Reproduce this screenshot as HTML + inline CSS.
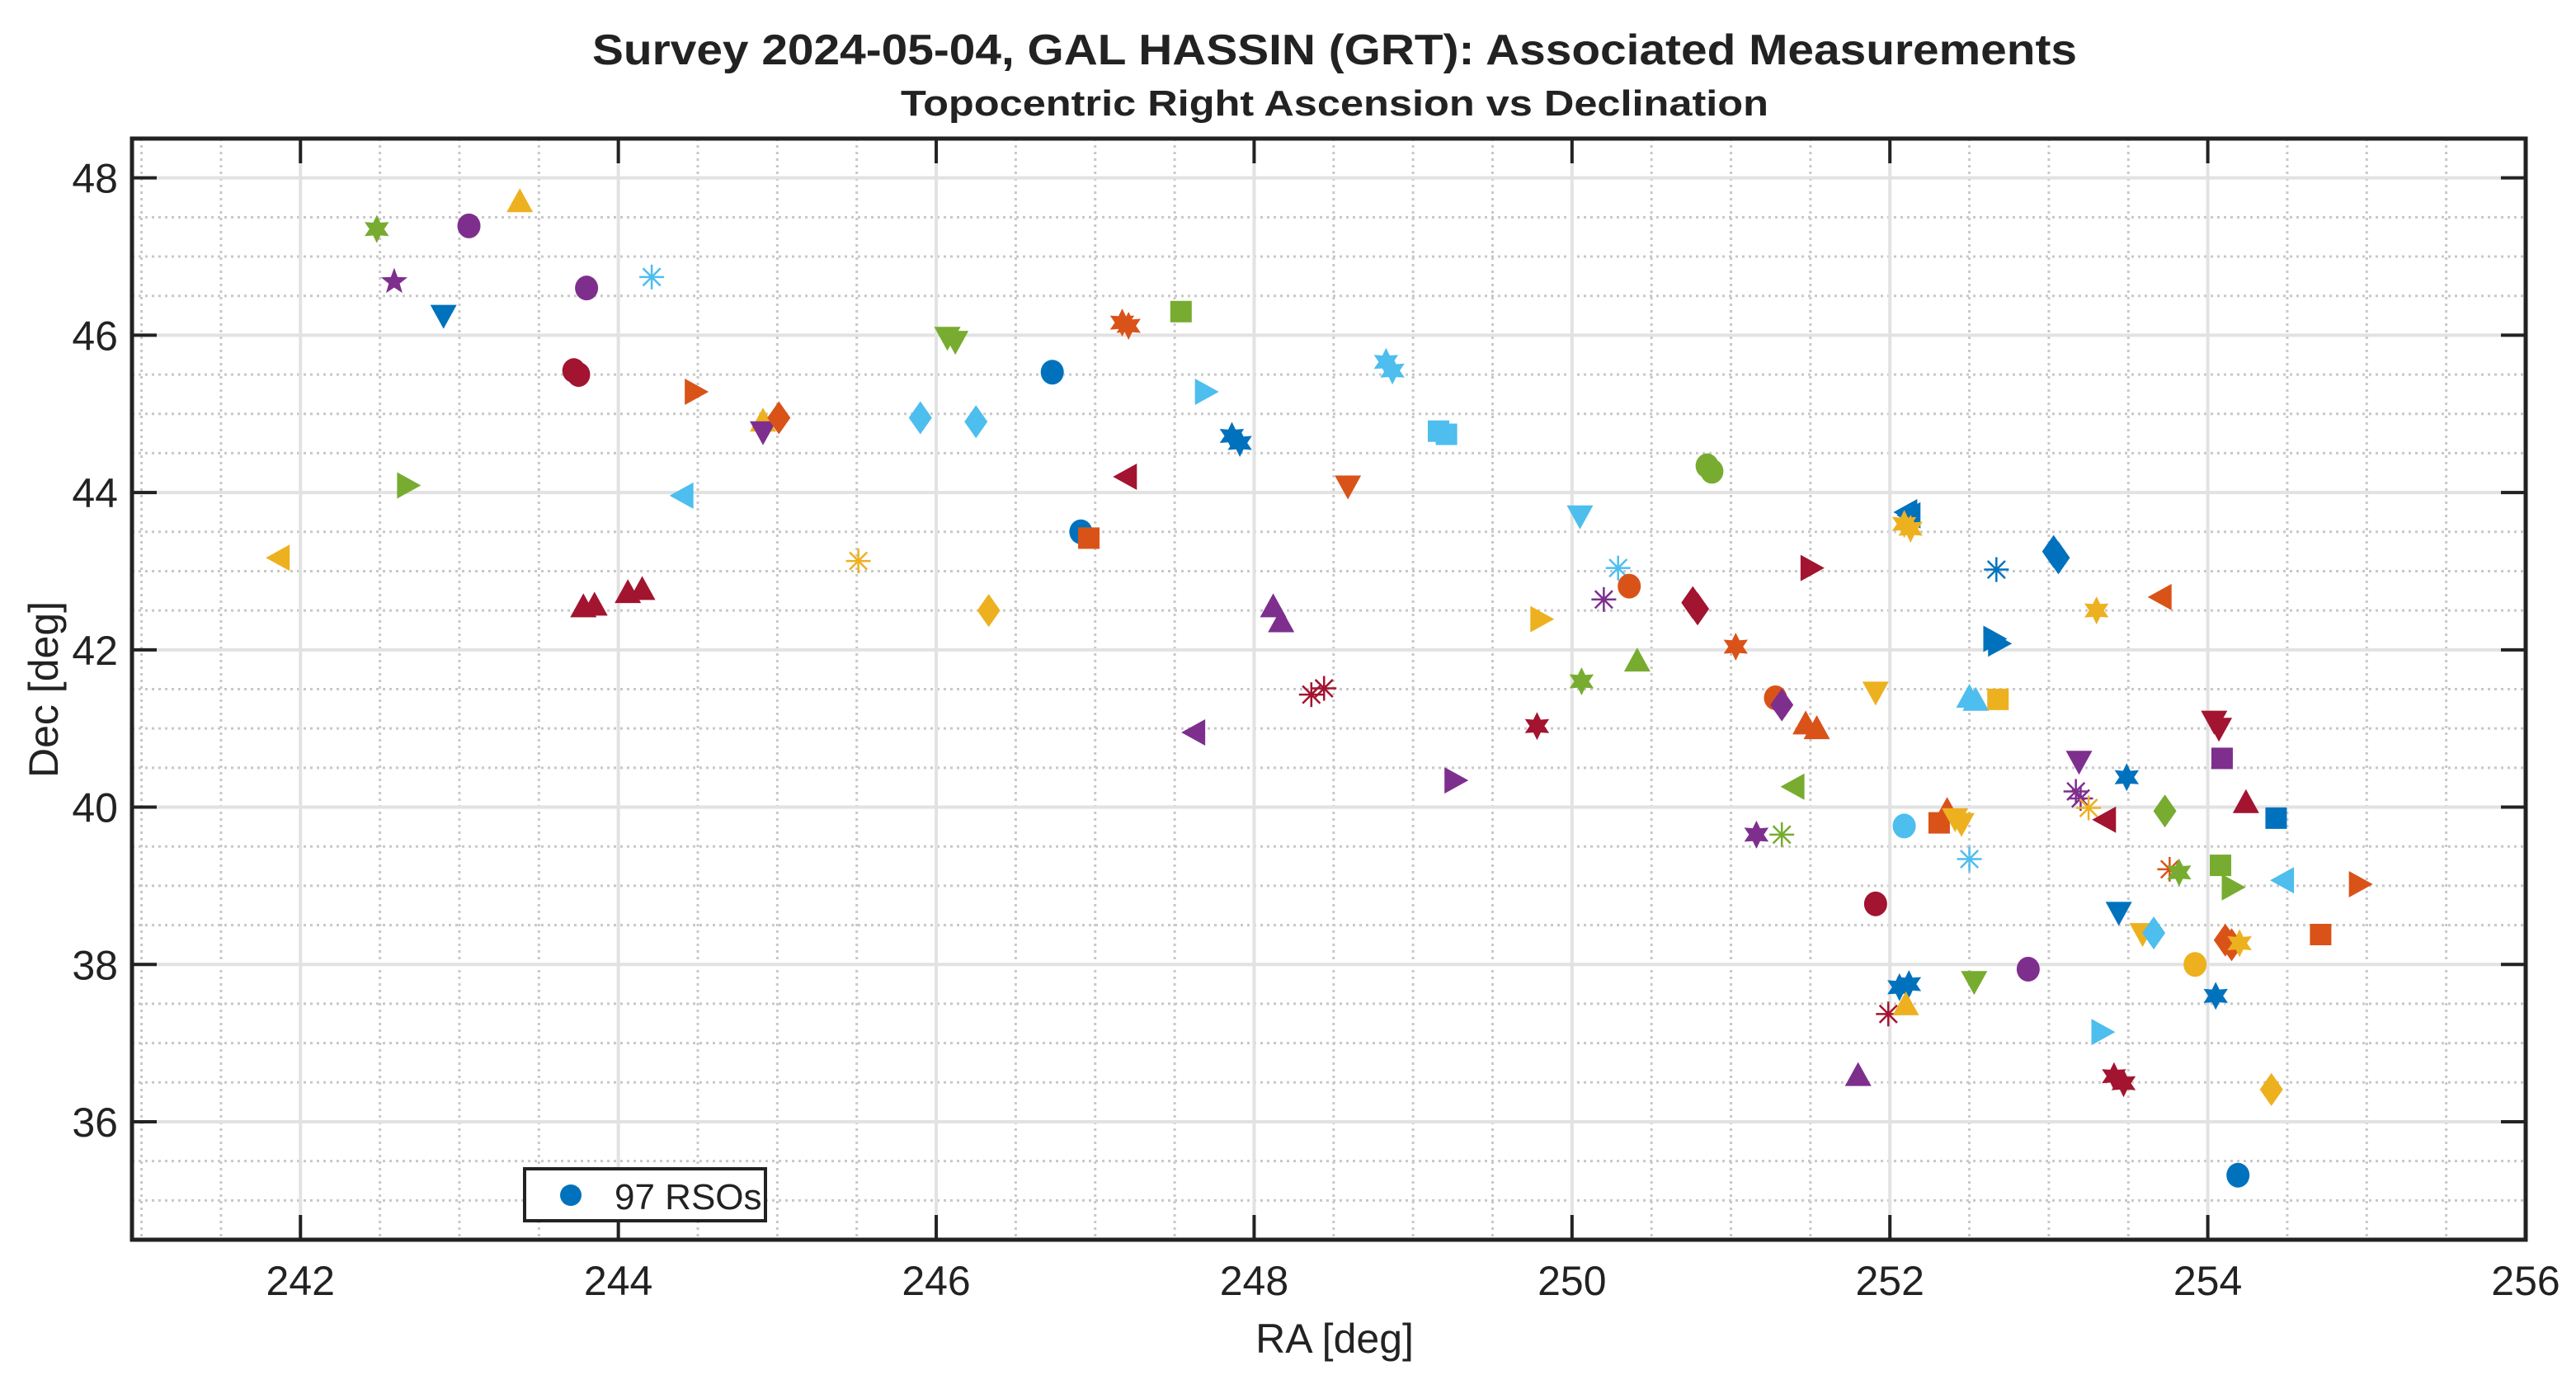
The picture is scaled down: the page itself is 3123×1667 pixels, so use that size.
<!DOCTYPE html>
<html><head><meta charset="utf-8"><style>
html,body{margin:0;padding:0;background:#fff;}
svg{display:block;}
text{font-family:"Liberation Sans Narrow","Liberation Sans",sans-serif;fill:#222;}
</style></head><body>
<svg id="chart" width="3123" height="1667" viewBox="0 0 3123 1667" xmlns="http://www.w3.org/2000/svg">
<rect x="0" y="0" width="3123" height="1667" fill="#fff"/>
<text x="1618" y="78" text-anchor="middle" font-size="52" font-weight="bold" textLength="1800" lengthAdjust="spacingAndGlyphs" style="font-family:'Liberation Sans',sans-serif">Survey 2024-05-04, GAL HASSIN (GRT): Associated Measurements</text>
<text x="1618" y="140" text-anchor="middle" font-size="44" font-weight="bold" textLength="1052" lengthAdjust="spacingAndGlyphs" style="font-family:'Liberation Sans',sans-serif">Topocentric Right Ascension vs Declination</text>
<g id="grid"></g>
<g id="marks"></g>
<g id="axes"></g>
<text x="1618" y="1640" text-anchor="middle" font-size="50">RA [deg]</text>
<text x="0" y="0" transform="translate(70,836) rotate(-90)" text-anchor="middle" font-size="50">Dec [deg]</text>
<g>
<rect x="636" y="1417" width="292" height="63" fill="#fff" stroke="#222" stroke-width="4"/>
<circle cx="692" cy="1449" r="13" fill="#0072BD"/>
<text x="745" y="1466" font-size="44">97 RSOs</text>
</g>
</svg>
<script>
const xTicks = [242, 244, 246, 248, 250, 252, 254, 256];
const yTicks = [36, 38, 40, 42, 44, 46, 48];
const xLim = [240.94, 256];
const yLim = [34.5, 48.5];
const palette = ['#0072BD','#D95319','#EDB120','#7E2F8E','#77AC30','#4DBEEE','#A2142F'];
// marker codes: o circle, s square, d diamond, ^ v < > triangles, p pentagram, h hexagram, * asterisk
const ra = [242.48,243.06,243.38,242.59,242.90,243.80,244.21,243.72,243.75,244.48,244.91,244.91,245.01,242.67,244.41,241.87,243.78,243.85,244.06,244.15,245.51,245.90,246.25,246.33,246.07,246.12,246.73,247.17,247.21,247.54,247.69,246.91,246.96,247.20,247.86,247.91,248.59,248.83,248.87,249.16,249.21,247.63,248.12,248.17,248.36,248.44,249.26,249.78,249.80,250.06,250.05,250.29,250.20,250.36,250.41,250.85,250.88,250.76,250.79,251.03,251.50,251.28,251.32,251.47,251.54,251.40,251.16,251.32,251.91,252.11,252.13,252.09,252.13,252.09,251.91,251.99,252.06,252.12,252.10,251.80,252.31,252.36,252.41,252.45,252.50,252.50,252.54,252.68,252.67,252.65,252.68,252.53,252.87,253.03,253.06,253.30,253.71,253.19,253.17,253.20,253.25,253.36,253.49,253.44,253.33,253.41,253.47,253.73,253.76,253.82,253.59,253.66,253.92,254.04,254.07,254.09,254.24,254.43,254.08,254.15,254.48,254.11,254.15,254.2,254.71,254.05,254.4,254.19,254.95];
const dec = [47.35,47.39,47.69,46.68,46.26,46.6,46.74,45.55,45.5,45.28,44.9,44.78,44.95,44.09,43.96,43.17,42.54,42.56,42.72,42.76,43.13,44.95,44.9,42.5,45.98,45.93,45.53,46.16,46.12,46.3,45.28,43.5,43.42,44.2,44.72,44.63,44.09,45.66,45.55,44.78,44.74,40.95,42.54,42.35,41.43,41.51,40.34,41.03,42.39,41.6,43.71,43.04,42.64,42.81,41.85,44.34,44.27,42.6,42.52,42.04,43.04,41.39,41.3,41.05,40.99,40.26,39.65,39.65,41.47,43.75,43.71,43.6,43.54,39.76,38.77,37.37,37.71,37.75,37.48,36.58,39.8,39.95,39.86,39.8,39.34,41.39,41.35,41.37,43.02,42.14,42.08,37.79,37.94,43.25,43.17,42.5,42.67,40.59,40.2,40.11,39.99,39.84,40.38,38.67,37.14,36.58,36.49,39.95,39.21,39.17,38.4,38.4,38.0,41.1,41.01,40.62,40.05,39.86,39.26,38.98,39.07,38.31,38.25,38.27,38.38,37.6,36.41,35.32,39.02];
const colorIdx = [4,3,2,3,0,3,5,6,6,1,2,3,1,4,5,2,6,6,6,6,2,5,5,2,4,4,0,1,1,4,5,0,1,6,0,0,1,5,5,5,5,3,3,3,6,6,3,6,2,4,5,5,3,1,4,4,4,6,6,1,6,1,3,1,1,4,3,4,2,0,0,2,2,5,6,6,0,0,2,3,1,1,2,2,5,5,5,2,0,0,0,4,3,0,0,2,1,3,3,3,2,6,0,0,5,6,6,4,1,4,2,5,2,6,6,3,6,0,4,4,5,1,1,2,1,0,2,0,1];
const markerType = ['h','o','^','p','v','o','*','o','o','>','^','v','d','>','<','<','^','^','^','^','*','d','d','d','v','v','o','h','h','s','>','o','s','<','h','h','v','h','h','s','s','<','^','^','*','*','>','h','>','h','v','*','*','o','^','o','o','d','d','h','>','o','d','^','^','<','h','*','v','<','<','h','h','o','o','*','h','h','^','^','s','^','v','v','*','^','^','s','*','>','>','v','o','d','d','h','<','v','*','*','*','<','h','v','>','h','h','d','*','h','v','d','o','v','v','s','^','s','s','>','<','d','d','h','s','h','d','o','>'];

const L=160,R=3062,T=168,B=1503;
const NS='http://www.w3.org/2000/svg';
function X(v){return L+(v-xLim[0])/(xLim[1]-xLim[0])*(R-L);}
function Y(v){return T+(yLim[1]-v)/(yLim[1]-yLim[0])*(B-T);}
function mk(tag,attrs,parent){const e=document.createElementNS(NS,tag);for(const k in attrs)e.setAttribute(k,attrs[k]);parent.appendChild(e);return e;}
const grid=document.getElementById('grid'),axes=document.getElementById('axes'),marks=document.getElementById('marks');
for(let v=241;v<=256.001;v+=0.5){if(Math.abs(v-Math.round(v/2)*2)<1e-6)continue;
 const l=mk('line',{x1:X(v),x2:X(v),y1:T,y2:B,stroke:'#c8c8c8','stroke-width':3,'stroke-dasharray':'3 5'},grid);
 
 }
for(let v=35;v<=48.001;v+=0.5){if(Math.abs(v-Math.round(v/2)*2)<1e-6)continue;
 const l=mk('line',{x1:L,x2:R,y1:Y(v),y2:Y(v),stroke:'#c8c8c8','stroke-width':3,'stroke-dasharray':'3 5'},grid);
 
 }
xTicks.forEach(v=>{const l=mk('line',{x1:X(v),x2:X(v),y1:T,y2:B,stroke:'#e2e2e2','stroke-width':4},grid);
 
 });
yTicks.forEach(v=>{const l=mk('line',{x1:L,x2:R,y1:Y(v),y2:Y(v),stroke:'#e2e2e2','stroke-width':4},grid);
 
 });
function star(cx,cy,n,ro,ri){let p=[];for(let i=0;i<2*n;i++){const a=-Math.PI/2+i*Math.PI/n;const r=i%2?ri:ro;p.push((cx+r*Math.cos(a)).toFixed(1)+','+(cy+r*Math.sin(a)).toFixed(1));}return p.join(' ');}
for(let i=0;i<ra.length;i++){
 const cx=X(ra[i]),cy=Y(dec[i]),c=palette[colorIdx[i]],t=markerType[i];let e;
 if(t==='o')e=mk('ellipse',{cx:cx,cy:cy,rx:14,ry:15,fill:c},marks);
 else if(t==='s')e=mk('rect',{x:cx-13,y:cy-13,width:26,height:26,fill:c},marks);
 else if(t==='d')e=mk('polygon',{points:`${cx},${cy-20} ${cx+14},${cy} ${cx},${cy+20} ${cx-14},${cy}`,fill:c},marks);
 else if(t==='^')e=mk('polygon',{points:`${cx},${cy-17} ${cx+16},${cy+12} ${cx-16},${cy+12}`,fill:c},marks);
 else if(t==='v')e=mk('polygon',{points:`${cx},${cy+17} ${cx+16},${cy-12} ${cx-16},${cy-12}`,fill:c},marks);
 else if(t==='<')e=mk('polygon',{points:`${cx-17},${cy} ${cx+12},${cy-16} ${cx+12},${cy+16}`,fill:c},marks);
 else if(t==='>')e=mk('polygon',{points:`${cx+17},${cy} ${cx-12},${cy-16} ${cx-12},${cy+16}`,fill:c},marks);
 else if(t==='p')e=mk('polygon',{points:star(cx,cy,5,17,7),fill:c},marks);
 else if(t==='h')e=mk('polygon',{points:star(cx,cy,6,17,9),fill:c},marks);
 else {e=mk('g',{stroke:c,'stroke-width':2.5},marks);
  for(let k=0;k<4;k++){const a=k*Math.PI/4;mk('line',{x1:cx-15*Math.cos(a),y1:cy-15*Math.sin(a),x2:cx+15*Math.cos(a),y2:cy+15*Math.sin(a)},e);}}
 
 
}
const box=mk('rect',{x:L,y:T,width:R-L,height:B-T,fill:'none',stroke:'#222','stroke-width':5},axes);


xTicks.forEach(v=>{
 mk('line',{x1:X(v),x2:X(v),y1:B,y2:B-30,stroke:'#222','stroke-width':4},axes);
 mk('line',{x1:X(v),x2:X(v),y1:T,y2:T+30,stroke:'#222','stroke-width':4},axes);
 const t=mk('text',{x:X(v),y:1570,'text-anchor':'middle','font-size':50},axes);t.textContent=v;
 
 });
yTicks.forEach(v=>{
 mk('line',{x1:L,x2:L+30,y1:Y(v),y2:Y(v),stroke:'#222','stroke-width':4},axes);
 mk('line',{x1:R,x2:R-30,y1:Y(v),y2:Y(v),stroke:'#222','stroke-width':4},axes);
 const t=mk('text',{x:143,y:Y(v)+18,'text-anchor':'end','font-size':50},axes);t.textContent=v;
 
 });
</script>
</body></html>
